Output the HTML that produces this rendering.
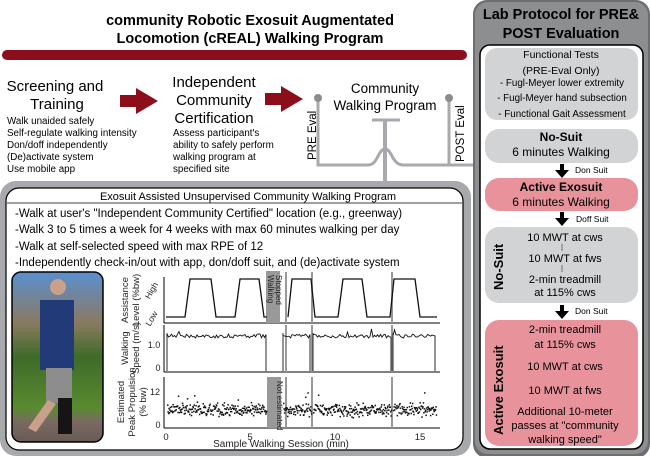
<!DOCTYPE html>
<html><head><meta charset="utf-8"><style>
html,body{margin:0;padding:0;background:#fff;width:650px;height:456px;overflow:hidden}
svg{display:block;font-family:"Liberation Sans",sans-serif}
</style></head><body>
<svg id="s" width="650" height="456" viewBox="0 0 650 456" xmlns="http://www.w3.org/2000/svg">
<!-- title -->
<text x="250" y="25" font-size="14.5" font-weight="bold" text-anchor="middle">community Robotic Exosuit Augmentated</text>
<text x="250" y="43" font-size="14.5" font-weight="bold" text-anchor="middle">Locomotion (cREAL) Walking Program</text>
<rect x="2" y="50" width="465" height="10" rx="5" fill="#8b0e1a"/>

<!-- screening -->
<text x="55" y="91" font-size="15" text-anchor="middle">Screening and</text>
<text x="57" y="109" font-size="15" text-anchor="middle">Training</text>
<g font-size="9.8">
<text x="7" y="124">Walk unaided safely</text>
<text x="7" y="136">Self-regulate walking intensity</text>
<text x="7" y="148">Don/doff independently</text>
<text x="7" y="160">(De)activate system</text>
<text x="7" y="172">Use mobile app</text>
</g>
<polygon points="120,95 136,95 136,88 158,101 136,114 136,107 120,107" fill="#8b0e1a"/>
<text x="214" y="87" font-size="15" text-anchor="middle">Independent</text>
<text x="214" y="105" font-size="15" text-anchor="middle">Community</text>
<text x="214" y="123" font-size="15" text-anchor="middle">Certification</text>
<g font-size="9.8">
<text x="173" y="136">Assess participant's</text>
<text x="173" y="148">ability to safely perform</text>
<text x="173" y="160">walking program at</text>
<text x="173" y="172">specified site</text>
</g>
<polygon points="265,93 281,93 281,86 303,99 281,112 281,105 265,105" fill="#8b0e1a"/>

<!-- connector -->
<g stroke="#a7a9ac" fill="none" stroke-width="3">
<path d="M318,99 V165 H368 C378,165 378,149 385,149 C392,149 392,165 403,165 H480"/>
<path d="M449,99 V165"/>
<path d="M372,120 H400"/>
<path d="M385,120 V190" stroke-width="4"/>
</g>
<circle cx="318" cy="98" r="4" fill="#8a8c8e"/>
<circle cx="449" cy="98" r="4" fill="#8a8c8e"/>
<text x="385" y="93" font-size="13.5" text-anchor="middle">Community</text>
<text x="385" y="110" font-size="13.5" text-anchor="middle">Walking Program</text>
<text transform="translate(316,160) rotate(-90)" font-size="11.5">PRE Eval</text>
<text transform="translate(464,162) rotate(-90)" font-size="11.5">POST Eval</text>

<!-- right panel -->
<rect x="473" y="0" width="177" height="458" rx="14" fill="#6d6e71"/>
<rect x="475" y="2" width="173" height="452" rx="13" fill="#8c8e90"/>
<text x="561" y="19" font-size="14.5" font-weight="bold" text-anchor="middle">Lab Protocol for PRE&amp;</text>
<text x="561" y="38" font-size="14.5" font-weight="bold" text-anchor="middle">POST Evaluation</text>
<rect x="480" y="45" width="163" height="404" rx="10" fill="#fff" stroke="#000" stroke-width="1.5"/>
<rect x="485" y="48" width="153" height="72" rx="12" fill="#d1d3d4"/>
<g font-size="10.5" text-anchor="middle">
<text x="561" y="58">Functional Tests</text>
<text x="561" y="74">(PRE-Eval Only)</text>
<text x="562" y="86" font-size="9.8">- Fugl-Meyer lower extremity</text>
<text x="562" y="101" font-size="9.8">- Fugl-Meyer hand subsection</text>
<text x="562" y="117" font-size="9.8">- Functional Gait Assessment</text>
</g>
<rect x="485" y="129" width="153" height="34" rx="14" fill="#d1d3d4"/>
<text x="561" y="141" font-size="12" font-weight="bold" text-anchor="middle">No-Suit</text>
<text x="561" y="156" font-size="12" text-anchor="middle">6 minutes Walking</text>
<polygon points="560,164 564,164 564,170 569,170 562,178 555,170 560,170"/>
<text x="575" y="173" font-size="8.5">Don Suit</text>
<rect x="485" y="178" width="153" height="33" rx="14" fill="#e8939c"/>
<text x="561" y="191" font-size="12" font-weight="bold" text-anchor="middle">Active Exosuit</text>
<text x="561" y="206" font-size="12" text-anchor="middle">6 minutes Walking</text>
<polygon points="560,212 564,212 564,218 569,218 562,226 555,218 560,218"/>
<text x="576" y="222" font-size="8.5">Doff Suit</text>
<rect x="485" y="227" width="153" height="76" rx="14" fill="#d1d3d4"/>
<text transform="translate(503,290) rotate(-90)" font-size="13" font-weight="bold">No-Suit</text>
<g font-size="11" text-anchor="middle">
<text x="565" y="241">10 MWT at cws</text>
<text x="565" y="262">10 MWT at fws</text>
<text x="565" y="283">2-min treadmill</text>
<text x="565" y="296">at 115% cws</text>
</g>
<g stroke="#555" stroke-width="0.8"><path d="M562,244 V251 M562,265 V272 M562,355 V362 M562,378 V385 M562,401 V408"/></g>
<polygon points="560,305 564,305 564,311 569,311 562,319 555,311 560,311"/>
<text x="575" y="314" font-size="8.5">Don Suit</text>
<rect x="485" y="320" width="153" height="126" rx="14" fill="#e8939c"/>
<text transform="translate(503,435) rotate(-90)" font-size="13" font-weight="bold">Active Exosuit</text>
<g font-size="11" text-anchor="middle">
<text x="565" y="333">2-min treadmill</text>
<text x="565" y="348">at 115% cws</text>
<text x="565" y="370">10 MWT at cws</text>
<text x="565" y="394">10 MWT at fws</text>
<text x="565" y="415">Additional 10-meter</text>
<text x="565" y="429">passes at "community</text>
<text x="565" y="443">walking speed"</text>
</g>

<!-- bottom left panel -->
<rect x="0" y="181" width="471" height="275" rx="16" fill="#a7a9ac"/>
<rect x="6" y="188" width="457" height="262" rx="13" fill="#fff" stroke="#000" stroke-width="1.2"/>
<line x1="7" y1="203" x2="462" y2="203" stroke="#000" stroke-width="0.8"/>
<text x="248" y="200" font-size="11" text-anchor="middle">Exosuit Assisted Unsupervised Community Walking Program</text>
<g font-size="11.5">
<text x="15" y="217">-Walk at user's "Independent Community Certified" location (e.g., greenway)</text>
<text x="15" y="233">-Walk 3 to 5 times a week for 4 weeks with max 60 minutes walking per day</text>
<text x="15" y="250">-Walk at self-selected speed with max RPE of 12</text>
<text x="15" y="266">-Independently check-in/out with app, don/doff suit, and (de)activate system</text>
</g>
<!-- photo -->
<defs><linearGradient id="ph" x1="0" y1="0" x2="0" y2="1"><stop offset="0" stop-color="#5a8fd0"/><stop offset="0.3" stop-color="#8a7a60"/><stop offset="0.5" stop-color="#3f6b2a"/><stop offset="0.8" stop-color="#5a8a30"/><stop offset="0.88" stop-color="#7a6a62"/><stop offset="1" stop-color="#6a5a55"/></linearGradient></defs>
<rect x="12" y="272" width="91" height="170" rx="9" fill="url(#ph)" stroke="#000" stroke-width="1.5"/>
<rect x="40" y="300" width="34" height="70" fill="#233a78"/>
<rect x="46" y="368" width="26" height="35" fill="#8d8d8d"/>
<rect x="58" y="398" width="14" height="36" fill="#151515"/>
<path d="M48,400 L28,428 L36,432 L56,404 Z" fill="#c9a08a"/>
<circle cx="58" cy="287" r="8" fill="#c9a08a"/>

<!-- plots -->
<g stroke="#000" fill="none" stroke-width="1">
<path d="M164,323 H440 M164,372 H440 M164,428 H440"/>
<path d="M164,277 V323 M164,325 V372 M164,377 V428"/>
</g>
<g fill="#999">
<rect x="266" y="271" width="14" height="52"/>
<rect x="267" y="377" width="14" height="51"/>
</g>
<g stroke="#999" stroke-width="2">
<path d="M286,272 V323 M286,325 V372 M286,377 V428 M312,272 V323 M312,325 V372 M312,377 V428 M392,272 V323 M392,325 V372 M392,377 V428"/>
</g>
<text transform="translate(276,275) rotate(90)" font-size="8" fill="#222">Stopped</text>
<text transform="translate(268,275) rotate(90)" font-size="8" fill="#222">Walking</text>
<text transform="translate(277,381) rotate(90)" font-size="8" fill="#222">Not estimated</text>
<path d="M166,317 H185 L190,279 H211 L216,317 H235 L240,279 H259 L264,317 H267 M288,317 L292,279 H311 L315,317 H338 L343,279 H362 L367,317 H390 L394,279 H415 L420,317 H437" stroke="#111" fill="none" stroke-width="1.3"/>
<path id="spd" stroke="#111" fill="none" stroke-width="0.9"/>
<g id="dots" fill="#111"></g>
<g font-size="9.5" text-anchor="middle" fill="#222">
<text transform="translate(128,300) rotate(-90)">Assistance</text>
<text transform="translate(139,300) rotate(-90)">Level (%bw)</text>
<text transform="translate(128,348) rotate(-90)">Walking</text>
<text transform="translate(139,348) rotate(-90)">Speed (m/s)</text>
<text transform="translate(124,402) rotate(-90)">Estimated</text>
<text transform="translate(135,402) rotate(-90)">Peak Propulsion</text>
<text transform="translate(146,402) rotate(-90)">(% bw)</text>
<text transform="translate(154,292) rotate(-60)" font-size="8.5">High</text>
<text transform="translate(154,320) rotate(-60)" font-size="8.5">Low</text>
<text x="154" y="348" font-size="9">1.0</text>
<text x="158" y="371" font-size="9">0</text>
<text x="155" y="395" font-size="9">12</text>
<text x="158" y="428" font-size="9">0</text>
<text x="166" y="440">0</text>
<text x="250" y="440">5</text>
<text x="335" y="440">10</text>
<text x="420" y="440">15</text>
<text x="281" y="447" font-size="10">Sample Walking Session (min)</text>
</g>
</svg>
<script>
var r=1;function rnd(){r=(r*16807)%2147483647;return r/2147483647;}
var segs=[[167,266],[283,311],[313,391],[393,436]];
var d="";
segs.forEach(function(s,i){var x=s[0];d+="M"+x+",371 V333 ";for(;x<=s[1];x+=1.5){d+="L"+x.toFixed(1)+","+(336+(rnd()-0.5)*4+(rnd()<0.03?-5:0)).toFixed(1)+" ";}d+="V371 ";});
document.getElementById("spd").setAttribute("d",d);
var g=document.getElementById("dots"),h="";
segs.forEach(function(s){for(var x=s[0];x<=s[1];x+=0.45){var y=409+(rnd()+rnd()+rnd()-1.5)*6;if(rnd()<0.02)y-=14;h+='<rect x="'+x.toFixed(1)+'" y="'+y.toFixed(1)+'" width="1.5" height="1.5"/>';}});
g.innerHTML=h;
</script>
</body></html>
